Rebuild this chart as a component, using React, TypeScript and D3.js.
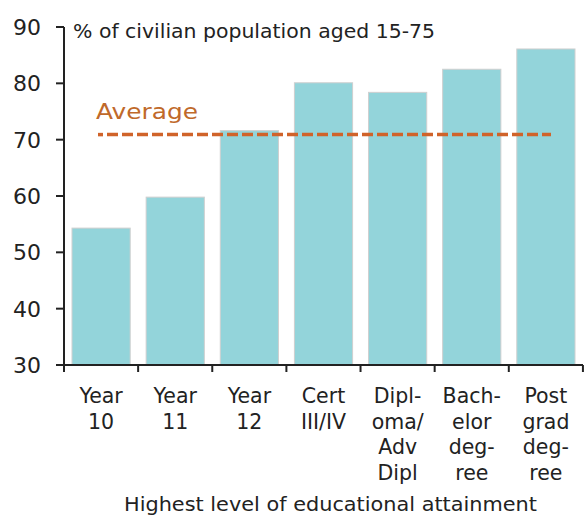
import React from "react";
import * as d3 from "d3";

const categories: string[][] = [
  ["Year", "10"],
  ["Year", "11"],
  ["Year", "12"],
  ["Cert", "III/IV"],
  ["Dipl-", "oma/", "Adv", "Dipl"],
  ["Bach-", "elor", "deg-", "ree"],
  ["Post", "grad", "deg-", "ree"],
];
const values: number[] = [54.3, 59.8, 71.6, 80.1, 78.4, 82.5, 86.1];
const averageValue = 70.9;
const yTicks: number[] = [30, 40, 50, 60, 70, 80, 90];
const titleText = "% of civilian population aged 15-75";
const xAxisTitle = "Highest level of educational attainment";
const averageLabel = "Average";

const W = 584;
const H = 516;
const left = 64;
const right = 583;
const top = 27;
const bottom = 365;
const FONT = "'DejaVu Sans', 'Open Sans', sans-serif";

export default function App() {
  const ids = categories.map((_, i) => String(i));
  const x = d3.scaleBand<string>().domain(ids).range([left, right]).paddingInner(0.215).paddingOuter(0.108);
  const y = d3.scaleLinear().domain([30, 90]).range([bottom, top]);
  const step = x.step();
  const tickXs = d3.range(categories.length + 1).map((i) => left + i * step);
  const yAvg = y(averageValue);

  return (
    <svg width={W} height={H} style={{ position: "absolute", left: 0, top: 0 }}>
      <rect width={W} height={H} fill="#fff" />
      {values.map((v, i) => (
        <rect
          key={i}
          x={x(String(i))}
          y={y(v)}
          width={x.bandwidth()}
          height={bottom - y(v)}
          fill="#93D4DA"
          stroke="#CFCFCF"
          strokeWidth={1}
        />
      ))}
      <line x1={98} x2={103} y1={yAvg} y2={yAvg} stroke="#D0632A" strokeWidth={3.5} />
      <line x1={107} x2={551} y1={yAvg} y2={yAvg} stroke="#D0632A" strokeWidth={3.5} strokeDasharray="11 4" />
      <text x={96} y={119} fontFamily={FONT} fontSize={22} fill="#C0692A" textLength={102} lengthAdjust="spacingAndGlyphs">{averageLabel}</text>
      <text x={73} y={38} fontFamily={FONT} fontSize={20} fill="#222" textLength={362} lengthAdjust="spacingAndGlyphs">{titleText}</text>
      {/* axes */}
      <line x1={left} x2={left} y1={top} y2={bottom} stroke="#222" strokeWidth={2} />
      <line x1={left} x2={right} y1={bottom} y2={bottom} stroke="#222" strokeWidth={2} />
      {yTicks.map((t) => (
        <g key={t}>
          <line x1={left - 8} x2={left} y1={y(t)} y2={y(t)} stroke="#222" strokeWidth={2} />
          <text x={41} y={y(t) + 8} textAnchor="end" fontFamily={FONT} fontSize={22} fill="#222">{t}</text>
        </g>
      ))}
      {tickXs.map((tx, i) => (
        <line key={i} x1={tx} x2={tx} y1={bottom} y2={bottom + 7} stroke="#222" strokeWidth={2} />
      ))}
      {categories.map((lines, i) => (
        <text key={i} textAnchor="middle" fontFamily={FONT} fontSize={20.5} fill="#222">
          {lines.map((l, j) => (
            <tspan key={j} x={(x(String(i)) as number) + x.bandwidth() / 2} y={403 + j * 25.5}>{l}</tspan>
          ))}
        </text>
      ))}
      <text x={124} y={511} fontFamily={FONT} fontSize={20} fill="#222" textLength={413} lengthAdjust="spacingAndGlyphs">{xAxisTitle}</text>
    </svg>
  );
}
